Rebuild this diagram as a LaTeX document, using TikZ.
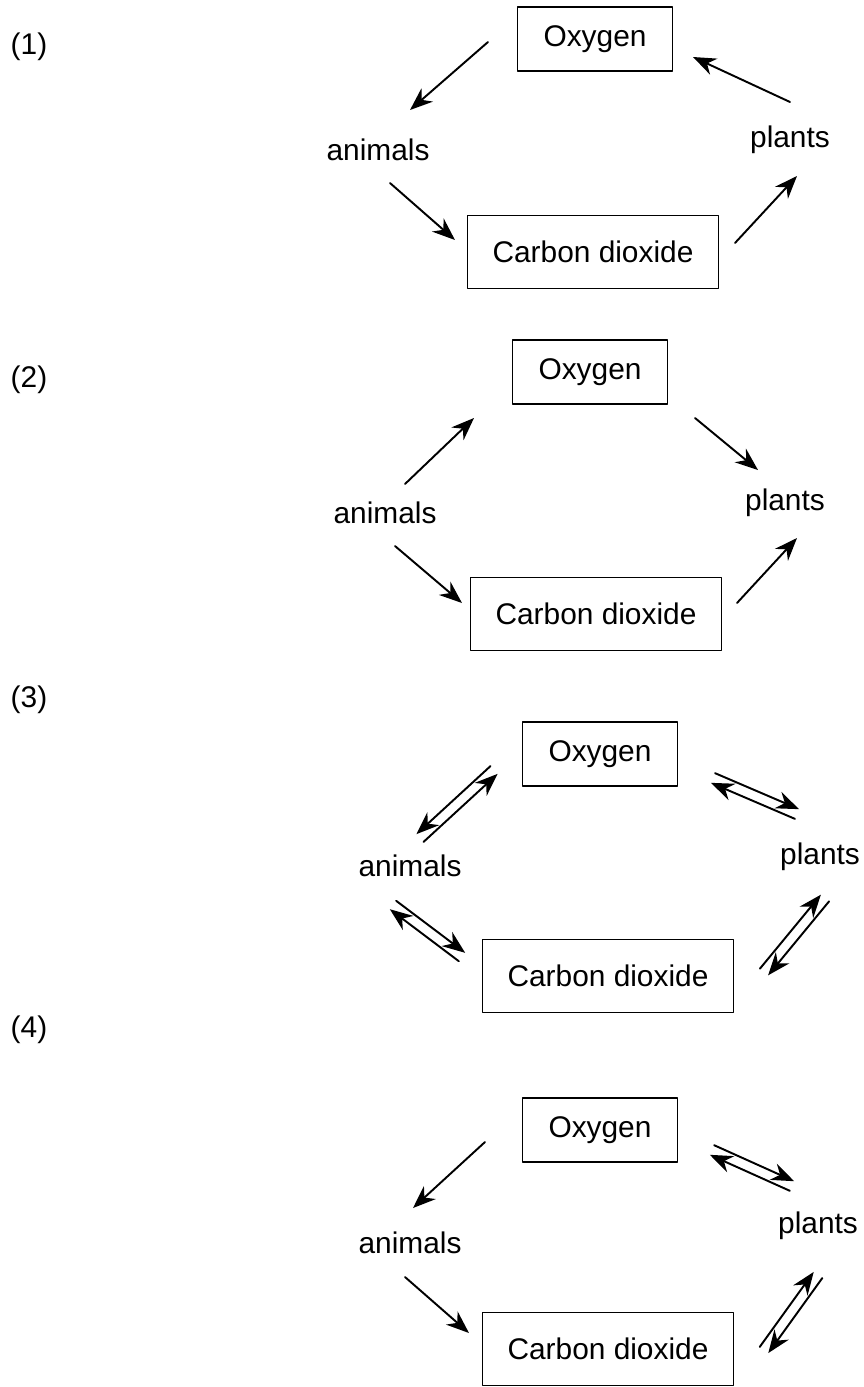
\documentclass[tikz,border=0pt]{standalone}
\usepackage{fontspec}
\setmainfont{Liberation Sans}
\usetikzlibrary{arrows.meta,calc}
\tikzset{
  box/.style={draw,line width=1.1pt,inner sep=0pt},
  oxbox/.style={box,minimum width=3.1cm,minimum height=1.28cm},
  cobox/.style={box,minimum width=5.02cm,minimum height=1.46cm},
  flow/.style={->,line width=1.1pt},
}
% two parallel arrows, one each way; #1 = side offset
\newcommand{\twoway}[3][3pt]{%
  \draw[flow] ($(#2)!#1!90:(#3)$) -- ($(#3)!#1!-90:(#2)$);
  \draw[flow] ($(#3)!#1!90:(#2)$) -- ($(#2)!#1!-90:(#3)$);}
\begin{document}
\begin{tikzpicture}[line cap=round,line join=round,>={Stealth[length=13pt,width=10pt]},x=0.02cm,y=-0.02cm,font=\fontsize{17}{20}\selectfont]
\useasboundingbox (0,0) rectangle (863,1387);
\foreach \n/\y in {1/47,2/380,3/700,4/1030}
  \node (lab\n) at (29,\y) {(\n)};
% (1)
\node[oxbox] (o1) at (595,39) {Oxygen};
\node (a1) at (378,150) {animals};
\node (p1) at (790,140) {plants};
\node[cobox] (c1) at (593,252) {Carbon dioxide};
\coordinate (oa1s) at (488,42);  \coordinate (oa1e) at (410,110);
\coordinate (ac1s) at (390,183); \coordinate (ac1e) at (455,240);
\coordinate (cp1s) at (735,243); \coordinate (cp1e) at (797,176);
\coordinate (po1s) at (790,102); \coordinate (po1e) at (693,57);
\draw[flow] (oa1s) -- (oa1e);
\draw[flow] (ac1s) -- (ac1e);
\draw[flow] (cp1s) -- (cp1e);
\draw[flow] (po1s) -- (po1e);
% (2)
\node[oxbox] (o2) at (590,372) {Oxygen};
\node (a2) at (385,513) {animals};
\node (p2) at (785,503) {plants};
\node[cobox] (c2) at (596,614) {Carbon dioxide};
\coordinate (ao2s) at (405,484); \coordinate (ao2e) at (474,418);
\coordinate (op2s) at (695,418); \coordinate (op2e) at (758,470);
\coordinate (ac2s) at (395,546); \coordinate (ac2e) at (462,603);
\coordinate (cp2s) at (737,603); \coordinate (cp2e) at (797,538);
\draw[flow] (ao2s) -- (ao2e);
\draw[flow] (op2s) -- (op2e);
\draw[flow] (ac2s) -- (ac2e);
\draw[flow] (cp2s) -- (cp2e);
% (3)
\node[oxbox] (o3) at (600,754) {Oxygen};
\node (a3) at (410,866) {animals};
\node (p3) at (820,857) {plants};
\node[cobox] (c3) at (608,976) {Carbon dioxide};
\coordinate (ao3a) at (420,838); \coordinate (ao3o) at (494,770);
\coordinate (op3o) at (713,778); \coordinate (op3p) at (797,814);
\coordinate (pc3p) at (825,898); \coordinate (pc3c) at (764,972);
\coordinate (ac3a) at (393,905); \coordinate (ac3c) at (462,957);
\twoway[-3pt]{ao3a}{ao3o}
\twoway{op3o}{op3p}
\twoway{pc3c}{pc3p}
\twoway{ac3a}{ac3c}
% (4)
\node[oxbox] (o4) at (600,1130) {Oxygen};
\node (a4) at (410,1243) {animals};
\node (p4) at (818,1226) {plants};
\node[cobox] (c4) at (608,1349) {Carbon dioxide};
\coordinate (oa4s) at (485,1142); \coordinate (oa4e) at (413,1208);
\coordinate (ac4s) at (405,1277); \coordinate (ac4e) at (469,1333);
\coordinate (op4o) at (712,1150); \coordinate (op4p) at (792,1186);
\coordinate (pc4p) at (818,1275); \coordinate (pc4c) at (764,1350);
\draw[flow] (oa4s) -- (oa4e);
\draw[flow] (ac4s) -- (ac4e);
\twoway{op4o}{op4p}
\twoway{pc4c}{pc4p}
\end{tikzpicture}
\end{document}
